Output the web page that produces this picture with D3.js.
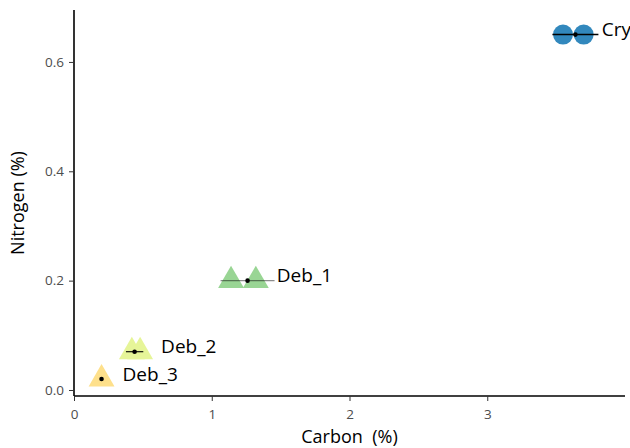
<!DOCTYPE html>
<html>
<head>
<meta charset="utf-8">
<script src="https://cdn.jsdelivr.net/npm/d3@7"></script>
<style>
  html, body { margin: 0; padding: 0; background: #fff; }
  svg { display: block; font-family: "Open Sans", sans-serif; }
</style>
</head>
<body>
<svg id="chart" width="630" height="448"></svg>
<script>
// ---- data ----
const groups = ["Cry", "Deb_1", "Deb_2", "Deb_3"];
const shapes = ["circle", "triangle", "triangle", "triangle"];
const carbonReps = [[3.55, 3.70], [1.14, 1.32], [0.42, 0.48], [0.20]];
const nitrogenReps = [[0.65, 0.65], [0.20, 0.20], [0.07, 0.07], [0.02]];
const carbonMean = [3.64, 1.26, 0.44, 0.20];
const nitrogenMean = [0.65, 0.20, 0.07, 0.02];
const carbonSD = [0.167, 0.196, 0.063, 0.0];
const xTicks = [0, 1, 2, 3];
const yTicks = [0.0, 0.2, 0.4, 0.6];
const colors = ["#3288bd", "#99d594", "#e6f598", "#fee08b"];
const errOpacity = [1, 0.45, 1, 1];

// ---- layout ----
const svg = d3.select("#chart");
const mLeft = 74, mTop = 10, mRight = 625, mBottom = 396;

const x = d3.scaleLinear().domain([0, 4]).range([mLeft, mRight]);
const y = d3.scaleLinear().domain([-0.011, 0.695]).range([mBottom, mTop]);

// axes
const xAxis = svg.append("g")
  .attr("transform", `translate(0,${mBottom})`)
  .call(d3.axisBottom(x).tickValues(xTicks).tickFormat(d3.format("d")).tickSize(5).tickPadding(8));
const yAxis = svg.append("g")
  .attr("transform", `translate(${mLeft},0)`)
  .call(d3.axisLeft(y).tickValues(yTicks).tickFormat(d3.format(".1f")).tickSize(5).tickPadding(5));

[xAxis, yAxis].forEach(a => {
  a.select(".domain").attr("stroke", "#000").attr("stroke-width", 1.6);
  a.selectAll(".tick line").attr("stroke", "#333").attr("stroke-width", 1);
  a.selectAll(".tick text").attr("fill", "#4d4d4d").attr("font-size", 13.5)
    .attr("font-family", "Open Sans, sans-serif");
});
xAxis.select(".domain").attr("d", `M${mLeft},0H${mRight}`);
yAxis.select(".domain").attr("d", `M0,${mTop}V${mBottom}`);

// axis titles
svg.append("text")
  .attr("x", (mLeft + mRight) / 2).attr("y", 443)
  .attr("text-anchor", "middle").attr("font-size", 18).attr("fill", "#000")
  .text("Carbon\u00a0\u00a0(%)");
svg.append("text")
  .attr("transform", `translate(24,${(mTop + mBottom) / 2}) rotate(-90)`)
  .attr("text-anchor", "middle").attr("font-size", 18).attr("fill", "#000")
  .text("Nitrogen (%)");

// points
const plot = svg.append("g");
const triSize = 290;
const circR = 10;
groups.forEach((g, i) => {
  const gg = plot.append("g");
  carbonReps[i].forEach((c, j) => {
    const px = x(c), py = y(nitrogenReps[i][j]);
    if (shapes[i] === "circle") {
      gg.append("circle").attr("cx", px).attr("cy", py).attr("r", circR)
        .attr("fill", colors[i]);
    } else {
      gg.append("path").attr("d", d3.symbol(d3.symbolTriangle, triSize)())
        .attr("transform", `translate(${px},${py})`)
        .attr("fill", colors[i]);
    }
  });
  if (carbonSD[i] > 0) {
    gg.append("line")
      .attr("x1", x(carbonMean[i] - carbonSD[i])).attr("x2", x(carbonMean[i] + carbonSD[i]))
      .attr("y1", y(nitrogenMean[i])).attr("y2", y(nitrogenMean[i]))
      .attr("stroke", "#000").attr("stroke-opacity", errOpacity[i])
      .attr("stroke-width", shapes[i] === "circle" ? 1.5 : 1.1);
  }
  gg.append("circle").attr("cx", x(carbonMean[i])).attr("cy", y(nitrogenMean[i]))
    .attr("r", 2.3).attr("fill", "#000");
  const halfW = shapes[i] === "circle" ? circR : 13;
  gg.append("text")
    .attr("x", x(d3.max(carbonReps[i])) + halfW + 8)
    .attr("y", y(nitrogenMean[i]) + 1.5)
    .attr("font-size", 19).attr("fill", "#000")
    .text(g);
});
</script>
</body>
</html>
